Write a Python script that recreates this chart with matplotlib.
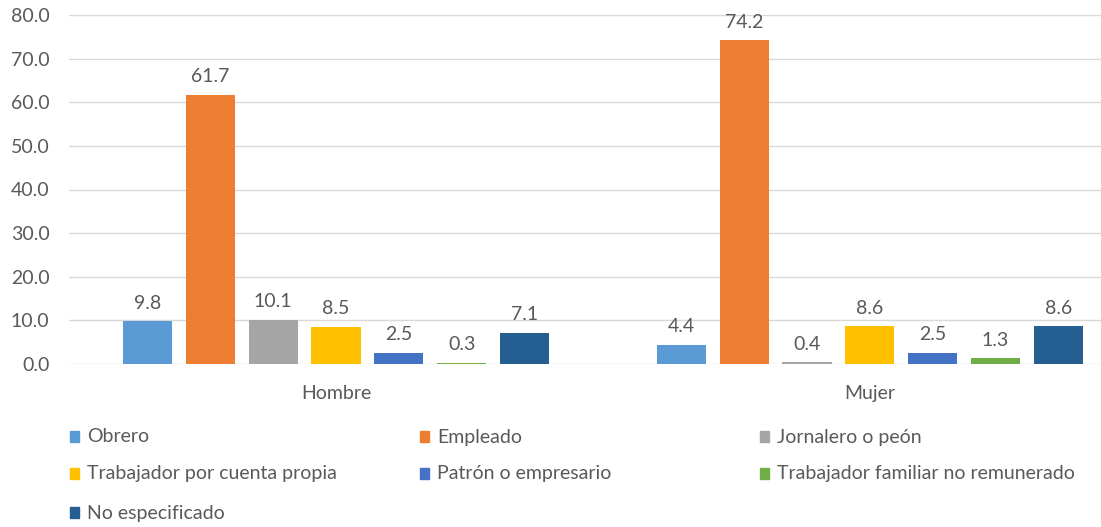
import matplotlib

matplotlib.use("Agg")

import matplotlib.pyplot as plt
import numpy as np
from matplotlib.patches import Rectangle

categories = ["Hombre", "Mujer"]
series = [
    "Obrero",
    "Empleado",
    "Jornalero o peón",
    "Trabajador por cuenta propia",
    "Patrón o empresario",
    "Trabajador familiar no remunerado",
    "No especificado",
]
values = [
    [9.8, 4.4],
    [61.7, 74.2],
    [10.1, 0.4],
    [8.5, 8.6],
    [2.5, 2.5],
    [0.3, 1.3],
    [7.1, 8.6],
]
colors = ["#5B9BD5", "#ED7D31", "#A5A5A5", "#FFC000", "#4472C4", "#70AD47", "#255E91"]

plt.rcParams["font.family"] = ["Lato", "DejaVu Sans"]
text_color = "#595959"
fs = 14

fig = plt.figure(figsize=(11.01, 5.27), dpi=100)
W, H = 1101, 527
ax = fig.add_axes([69 / W, 1 - 364 / H, 1 - 69 / W, (364 - 15) / H])

x = np.arange(len(categories))
step = 0.1177
width = 0.092
for i, (name, vals) in enumerate(zip(series, values)):
    pos = x + (i - 3) * step
    bars = ax.bar(pos, vals, width, color=colors[i], label=name, zorder=3)
    for b, v in zip(bars, vals):
        ax.annotate(f"{v:.1f}", (b.get_x() + b.get_width() / 2, v),
                    xytext=(0, 7), textcoords="offset points",
                    ha="center", va="bottom", fontsize=fs, color=text_color)

ax.set_xlim(-0.5, 1.433)
ax.set_ylim(0, 80)
ax.set_yticks(np.arange(0, 81, 10))
ax.set_yticklabels([f"{t:.1f}" for t in np.arange(0, 81, 10)])
ax.set_xticks(x)
ax.set_xticklabels(categories)
ax.tick_params(axis="both", length=0, labelsize=fs, colors=text_color)
ax.tick_params(axis="x", pad=15)
ax.tick_params(axis="y", pad=14)
ax.yaxis.grid(True, color="#D9D9D9", linewidth=1, zorder=0)
for s in ax.spines.values():
    s.set_visible(False)

# leyenda manual, tres columnas por filas
col_x = [70, 420, 760]
row_y = [437, 474, 513]
for i, name in enumerate(series):
    r, c = divmod(i, 3)
    px, py = col_x[c], row_y[r]
    fig.patches.append(Rectangle((px / W, 1 - (py + 5) / H), 9 / W, 11 / H,
                                 transform=fig.transFigure, color=colors[i]))
    fig.text((px + 17) / W, 1 - py / H, name, fontsize=fs, color=text_color,
             ha="left", va="center")

plt.savefig("out.png", dpi=100)
plt.close(fig)
